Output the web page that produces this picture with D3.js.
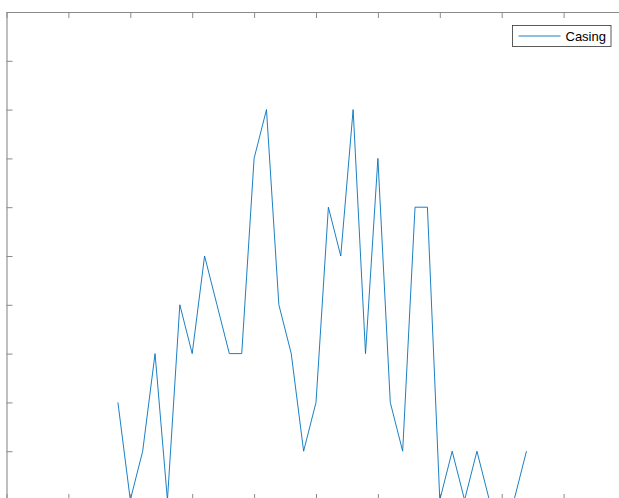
<!DOCTYPE html>
<html>
<head>
<meta charset="utf-8">
<script src="https://cdn.jsdelivr.net/npm/d3@7"></script>
<style>
  html, body { margin: 0; padding: 0; background: #fff; }
  svg { display: block; }
</style>
</head>
<body>
<div id="chart"></div>
<script>
// Sample index (x) and counts for the "Casing" series
const xValues = [9, 10, 11, 12, 13, 14, 15, 16, 17, 18, 19, 20, 21, 22, 23, 24, 25,
                 26, 27, 28, 29, 30, 31, 32, 33, 34, 35, 36, 37, 38, 39, 40, 41, 42];
const casing  = [2, 0, 1, 3, 0, 4, 3, 5, 4, 3, 3, 7, 8, 4, 3, 1, 2,
                 6, 5, 8, 3, 7, 2, 1, 6, 6, 0, 1, 0, 1, 0, 0, 0, 1];
const seriesName = "Casing";
const xTicks = [0, 5, 10, 15, 20, 25, 30, 35, 40, 45, 50];
const yTicks = [0, 1, 2, 3, 4, 5, 6, 7, 8, 9, 10];

const W = 619, H = 498;
const plotLeft = 6.5, plotRight = 625.5, plotTop = 12, plotBottom = 500;

const svg = d3.select("#chart").append("svg")
  .attr("width", W).attr("height", H);

const x = d3.scaleLinear().domain([0, 50]).range([plotLeft, plotRight]);
const y = d3.scaleLinear().domain([0, 10]).range([plotBottom, plotTop]);

const axisColor = "#8a8a8a";
const tickLen = 6;

function styleAxis(g) {
  g.selectAll("text").remove();
  g.select(".domain").attr("stroke", axisColor).attr("stroke-width", 1.1);
  g.selectAll(".tick line").attr("stroke", axisColor).attr("stroke-width", 1);
}

// Box axes with inward ticks on all four sides
svg.append("g").attr("transform", `translate(0,${plotTop})`)
  .call(d3.axisBottom(x).tickValues(xTicks).tickSizeInner(tickLen).tickSizeOuter(0))
  .call(styleAxis);
svg.append("g").attr("transform", `translate(0,${plotBottom})`)
  .call(d3.axisTop(x).tickValues(xTicks).tickSizeInner(tickLen).tickSizeOuter(0))
  .call(styleAxis);
svg.append("g").attr("transform", `translate(${plotLeft},0)`)
  .call(d3.axisRight(y).tickValues(yTicks).tickSizeInner(tickLen).tickSizeOuter(0))
  .call(styleAxis);
svg.append("g").attr("transform", `translate(${plotRight},0)`)
  .call(d3.axisLeft(y).tickValues(yTicks).tickSizeInner(tickLen).tickSizeOuter(0))
  .call(styleAxis);

// Series line
const line = d3.line()
  .x((d, i) => x(xValues[i]))
  .y(d => y(d));

svg.append("path")
  .datum(casing)
  .attr("fill", "none")
  .attr("stroke", "#0072BD")
  .attr("stroke-width", 0.9)
  .attr("stroke-linejoin", "miter")
  .attr("d", line);

// Legend
const lg = svg.append("g").attr("transform", "translate(512.5,25.5)");
lg.append("rect")
  .attr("width", 98.5).attr("height", 21)
  .attr("fill", "#fff").attr("stroke", "#333").attr("stroke-width", 0.8);
lg.append("line")
  .attr("x1", 6).attr("x2", 48).attr("y1", 10.5).attr("y2", 10.5)
  .attr("stroke", "#0072BD").attr("stroke-width", 0.9);
lg.append("text")
  .attr("x", 53).attr("y", 15.3)
  .attr("font-family", "'Liberation Sans', Arial, Helvetica, sans-serif")
  .attr("font-size", 13)
  .attr("fill", "#000")
  .text(seriesName);
</script>
</body>
</html>
